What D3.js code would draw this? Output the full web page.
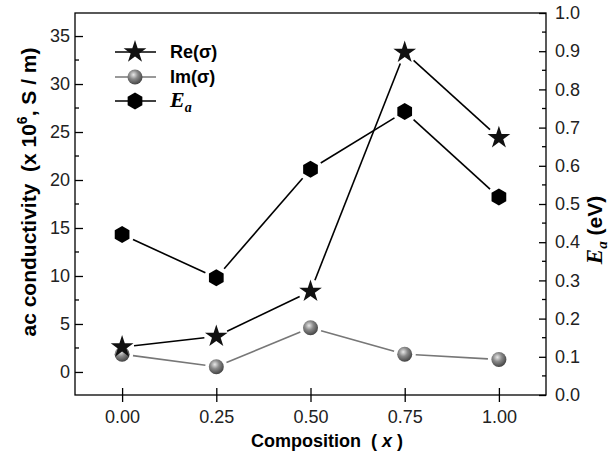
<!DOCTYPE html>
<html><head><meta charset="utf-8">
<script src="https://cdn.jsdelivr.net/npm/d3@7"></script>
<style>body{margin:0;background:#fff}svg{display:block}</style>
</head><body>
<svg id="c" width="611" height="461"></svg>
<script>
const compositions = [0.00, 0.25, 0.50, 0.75, 1.00];
const reSigma = [2.6, 3.7, 8.4, 33.3, 24.4];
const imSigma = [1.85, 0.55, 4.6, 1.85, 1.3];
const activationEnergy = [0.42, 0.307, 0.591, 0.742, 0.518];
const xTicks = [0.00, 0.25, 0.50, 0.75, 1.00];
const leftTicks = [0, 5, 10, 15, 20, 25, 30, 35];
const rightTicks = [0.0, 0.1, 0.2, 0.3, 0.4, 0.5, 0.6, 0.7, 0.8, 0.9, 1.0];

const svg = d3.select('#c');
const L = 75, R = 546, T = 13, B = 395;
const x = d3.scaleLinear().domain([-0.125, 1.125]).range([L, R]);
const yL = d3.scaleLinear().domain([-2.4, 37.4]).range([B, T]);
const yR = d3.scaleLinear().domain([0, 1]).range([B, T]);
const tickFont = 'Liberation Sans, Arial, sans-serif';
const serif = 'Liberation Serif, Times New Roman, serif';

const defs = svg.append('defs');
const g = defs.append('radialGradient').attr('id', 'ball').attr('cx', '40%').attr('cy', '35%').attr('r', '65%');
g.append('stop').attr('offset', '0%').attr('stop-color', '#e8e8e8');
g.append('stop').attr('offset', '45%').attr('stop-color', '#8a8a8a');
g.append('stop').attr('offset', '100%').attr('stop-color', '#454545');

// frame
svg.append('rect').attr('x', L).attr('y', T).attr('width', R - L).attr('height', B - T)
  .attr('fill', 'none').attr('stroke', '#000').attr('stroke-width', 1.3);

// bottom axis (crossing ticks)
const xAx = svg.append('g').attr('transform', `translate(0,${B})`)
  .call(d3.axisBottom(x).tickValues(xTicks).tickFormat(d3.format('.2f')).tickSizeInner(7).tickSizeOuter(0).tickPadding(8));
xAx.select('.domain').remove();
xAx.selectAll('.tick line').attr('y1', -7).attr('stroke-width', 1.3);
xAx.selectAll('text').attr('font-family', tickFont).attr('font-size', 18).attr('fill', '#222');

// left axis (inward ticks)
const minorL = d3.range(0, 37.5, 2.5).filter(v => v % 5 !== 0);
const lAx = svg.append('g').attr('transform', `translate(${L},0)`)
  .call(d3.axisLeft(yL).tickValues(leftTicks).tickSize(0).tickPadding(5));
lAx.select('.domain').remove();
lAx.selectAll('.tick line').attr('x2', 8).attr('stroke', '#000').attr('stroke-width', 1.3);
lAx.selectAll('text').attr('font-family', tickFont).attr('font-size', 18).attr('fill', '#222');
svg.append('g').selectAll('line').data(minorL).join('line')
  .attr('x1', L).attr('x2', L + 4).attr('y1', d => yL(d)).attr('y2', d => yL(d))
  .attr('stroke', '#000').attr('stroke-width', 1.3);

// right axis (inward ticks)
const minorR = d3.range(0.05, 1, 0.1);
const rAx = svg.append('g').attr('transform', `translate(${R},0)`)
  .call(d3.axisRight(yR).tickValues(rightTicks).tickFormat(d3.format('.1f')).tickSize(0).tickPadding(9));
rAx.select('.domain').remove();
rAx.selectAll('.tick line').attr('x2', -7).attr('stroke', '#000').attr('stroke-width', 1.3);
rAx.selectAll('text').attr('font-family', tickFont).attr('font-size', 18).attr('fill', '#222');
svg.append('g').selectAll('line').data(minorR).join('line')
  .attr('x1', R).attr('x2', R - 4).attr('y1', d => yR(d)).attr('y2', d => yR(d))
  .attr('stroke', '#000').attr('stroke-width', 1.3);

// titles
svg.append('text').attr('x', 327).attr('y', 447).attr('text-anchor', 'middle')
  .attr('font-family', tickFont).attr('font-weight', 'bold').attr('font-size', 18)
  .html('Composition&#160; ( <tspan font-style="italic">x</tspan> )');

const lt = svg.append('text').attr('transform', 'translate(36,192) rotate(-90)').attr('text-anchor', 'middle')
  .attr('font-family', tickFont).attr('font-weight', 'bold').attr('font-size', 21);
lt.append('tspan').text('ac conductivity\u00a0\u00a0(x 10');
lt.append('tspan').attr('dy', -9).attr('font-size', 14).text('6');
lt.append('tspan').attr('dy', 9).text(', S / m)');

const rt = svg.append('text').attr('transform', 'translate(602,230) rotate(-90)').attr('text-anchor', 'middle')
  .attr('font-weight', 'bold').attr('font-size', 21);
rt.append('tspan').attr('font-family', serif).attr('font-style', 'italic').attr('font-size', 23).text('E');
rt.append('tspan').attr('font-family', serif).attr('font-style', 'italic').attr('font-size', 15).attr('dy', 5).text('a');
rt.append('tspan').attr('font-family', tickFont).attr('dy', -5).text('\u00a0(eV)');

// markers
const starPath = d3.symbol().type(d3.symbolStar).size(160)();
const hexPath = (() => { const r = 8.5; const pts = d3.range(6).map(i => { const a = Math.PI / 3 * i - Math.PI / 2; return [r * Math.cos(a), r * Math.sin(a)]; }); return 'M' + pts.join('L') + 'Z'; })();

function gappedLines(pts, gap, color, width) {
  const grp = svg.append('g');
  for (let i = 0; i < pts.length - 1; i++) {
    const [x0, y0] = pts[i], [x1, y1] = pts[i + 1];
    const dx = x1 - x0, dy = y1 - y0, len = Math.hypot(dx, dy);
    const ux = dx / len, uy = dy / len;
    grp.append('line').attr('x1', x0 + ux * gap).attr('y1', y0 + uy * gap)
      .attr('x2', x1 - ux * gap).attr('y2', y1 - uy * gap)
      .attr('stroke', color).attr('stroke-width', width);
  }
}

const rePts = compositions.map((c, i) => [x(c), yL(reSigma[i])]);
const imPts = compositions.map((c, i) => [x(c), yL(imSigma[i])]);
const eaPts = compositions.map((c, i) => [x(c), yR(activationEnergy[i])]);

gappedLines(eaPts, 12, '#000', 1.6);
gappedLines(imPts, 11, '#777', 1.6);
gappedLines(rePts, 12, '#000', 1.6);

svg.append('g').selectAll('path').data(eaPts).join('path')
  .attr('d', hexPath).attr('transform', d => `translate(${d[0]},${d[1]})`).attr('fill', '#000');
svg.append('g').selectAll('circle').data(imPts).join('circle')
  .attr('cx', d => d[0]).attr('cy', d => d[1]).attr('r', 7.5).attr('fill', 'url(#ball)');
svg.append('g').selectAll('path').data(rePts).join('path')
  .attr('d', starPath).attr('transform', d => `translate(${d[0]},${d[1]})`).attr('fill', '#111');

// legend
const leg = svg.append('g');
const rows = [
  {y: 52, type: 'star', color: '#000'},
  {y: 77, type: 'ball', color: '#777'},
  {y: 101, type: 'hex', color: '#000'}
];
rows.forEach(r => {
  leg.append('line').attr('x1', 115).attr('x2', 156).attr('y1', r.y).attr('y2', r.y).attr('stroke', r.color).attr('stroke-width', 1.6);
  if (r.type === 'star') leg.append('path').attr('d', starPath).attr('transform', `translate(135,${r.y})`).attr('fill', '#111');
  if (r.type === 'ball') leg.append('circle').attr('cx', 135).attr('cy', r.y).attr('r', 7.5).attr('fill', 'url(#ball)');
  if (r.type === 'hex') leg.append('path').attr('d', hexPath).attr('transform', `translate(135,${r.y})`).attr('fill', '#000');
});
leg.append('text').attr('x', 170).attr('y', 58).attr('font-family', tickFont).attr('font-weight', 'bold').attr('font-size', 18).text('Re(σ)');
leg.append('text').attr('x', 170).attr('y', 83).attr('font-family', tickFont).attr('font-weight', 'bold').attr('font-size', 18).text('Im(σ)');
const le = leg.append('text').attr('x', 170).attr('y', 107).attr('font-family', serif).attr('font-weight', 'bold').attr('font-style', 'italic');
le.append('tspan').attr('font-size', 22).text('E');
le.append('tspan').attr('font-size', 14).attr('dy', 5).text('a');
</script>
</body></html>
